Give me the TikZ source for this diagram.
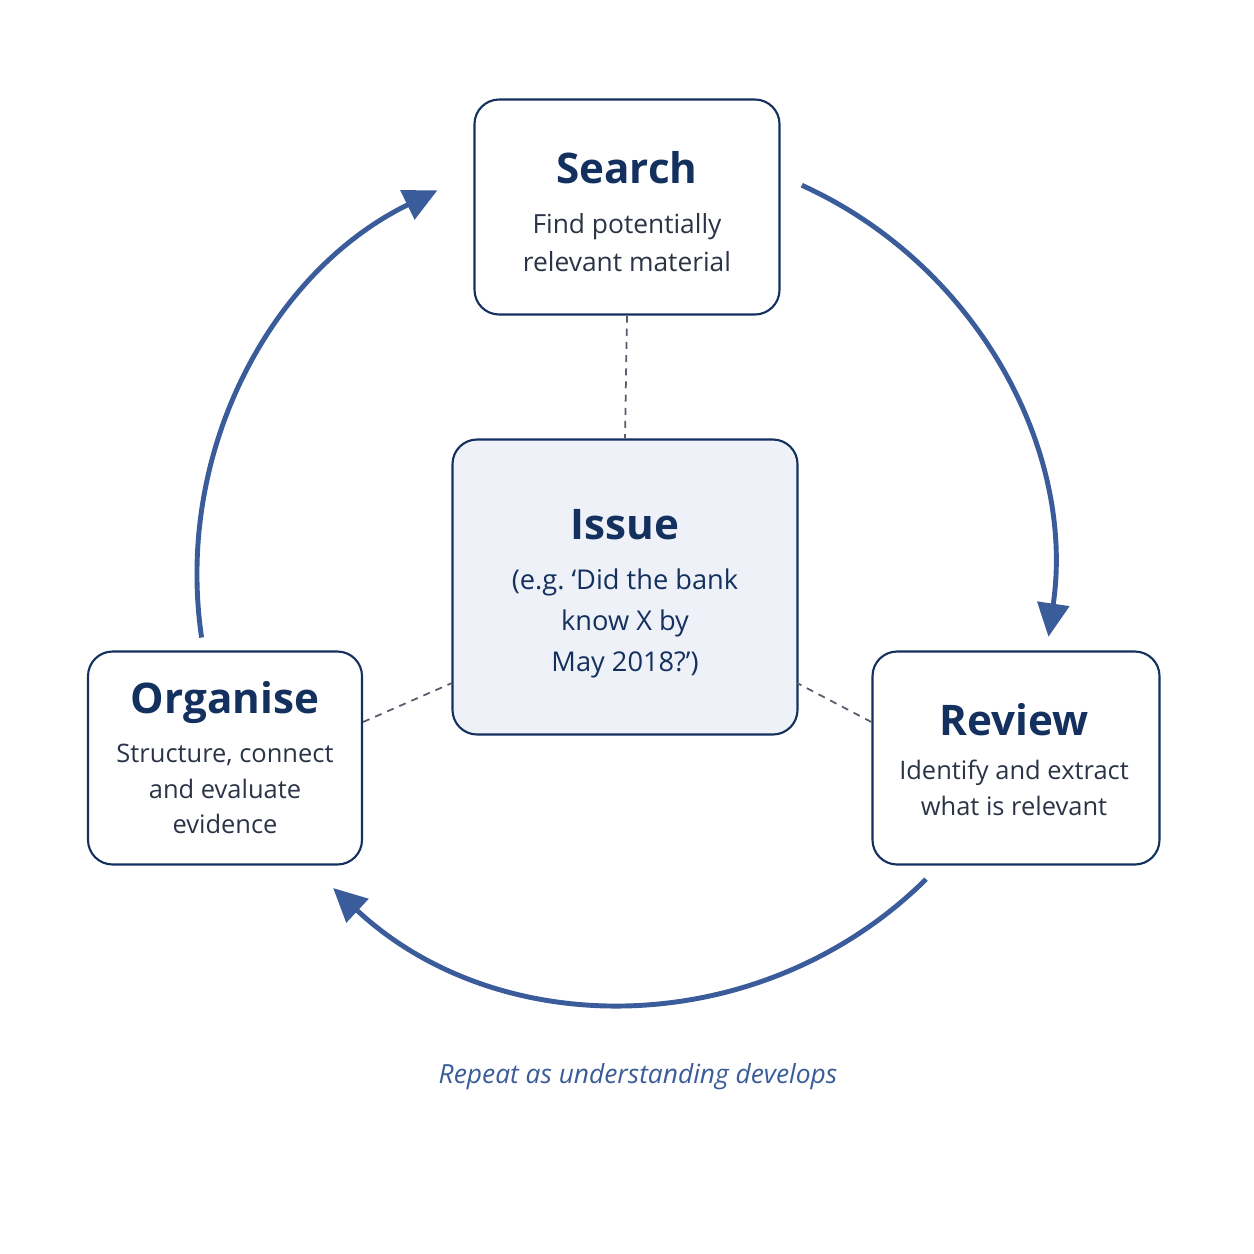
\documentclass[tikz,border=0pt]{standalone}
\usepackage{fontspec}
\setmainfont{Open Sans}
\usetikzlibrary{arrows.meta}
\definecolor{navy}{HTML}{14305E}
\definecolor{cyclecol}{HTML}{3A5C9A}
\definecolor{issuefill}{HTML}{EEF2F8}
\definecolor{bodytext}{HTML}{2B3447}
\tikzset{
  stepbox/.style = {shape=rectangle, rounded corners=14pt, draw=navy,
                    line width=1.2pt, fill=white, align=center, inner sep=0pt},
  issuebox/.style = {stepbox, fill=issuefill},
  cycle/.style = {draw=cyclecol, line width=2.8pt,
                  -{Triangle[length=19pt,width=18pt]}},
  link/.style = {draw=bodytext!80, line width=1pt, dash pattern=on 4pt off 3.5pt},
}
\newcommand{\steptitle}[1]{{\fontsize{24}{28}\selectfont\bfseries\color{navy}#1}}
\begin{document}
\begin{tikzpicture}[x=0.02cm, y=-0.02cm]
	\useasboundingbox[fill=white] (0,0) rectangle (1254,1254);
	% boxes
	\node [stepbox, minimum width=305*0.02cm, minimum height=215*0.02cm] (search) at (627,207) {};
	\node [issuebox, minimum width=345*0.02cm, minimum height=295*0.02cm] (issue) at (625,587) {};
	\node [stepbox, minimum width=274*0.02cm, minimum height=213*0.02cm] (organise) at (225,758) {};
	\node [stepbox, minimum width=287*0.02cm, minimum height=213*0.02cm] (review) at (1016,758) {};
	% texts
	\node (searcht) at (627,168) {\steptitle{Search}};
	\node [align=center, font=\fontsize{15}{21.5}\selectfont, text=bodytext] (searchb) at (627,243)
		{Find potentially\\relevant material};
	\node (issuet) at (625,525) {\steptitle{Issue}};
	\node [align=center, font=\fontsize{15.5}{23.3}\selectfont, text=navy] (issueb) at (625,623)
		{(e.g.\ ‘Did the bank\\know X by\\May 2018?’)};
	\node (organiset) at (225,703) {\steptitle{Organise}};
	\node [align=center, font=\fontsize{14.5}{20}\selectfont, text=bodytext] (organiseb) at (225,789)
		{Structure, connect\\and evaluate\\evidence};
	\node (reviewt) at (1014,720) {\steptitle{Review}};
	\node [align=center, font=\fontsize{14.5}{20.5}\selectfont, text=bodytext] (reviewb) at (1014,788)
		{Identify and extract\\what is relevant};
	\node [font=\fontsize{15}{18}\selectfont\itshape, text=cyclecol] (caption) at (638,1077)
		{Repeat as understanding develops};
	% dashed links
	\draw [link] (search.south) -- (issue.north);
	\draw [link] (organise.east |- 0,722) coordinate (o1) -- (452,683) coordinate (i1);
	\draw [link] (review.west |- 0,722) coordinate (r1) -- (797,683) coordinate (i2);
	% cycle arrows
	\coordinate (cyc) at (625,575);
	\draw [cycle] (cyc) ++(-65.6:428) coordinate (a1) arc[start angle=-65.6, end angle=8.3, radius=428];
	\draw [cycle] (cyc) ++(45.3:428) coordinate (a2) arc[start angle=45.3, end angle=133, radius=428];
	\draw [cycle] (cyc) ++(-188.4:428) coordinate (a3) arc[start angle=-188.4, end angle=-116, radius=428];
\end{tikzpicture}
\end{document}
